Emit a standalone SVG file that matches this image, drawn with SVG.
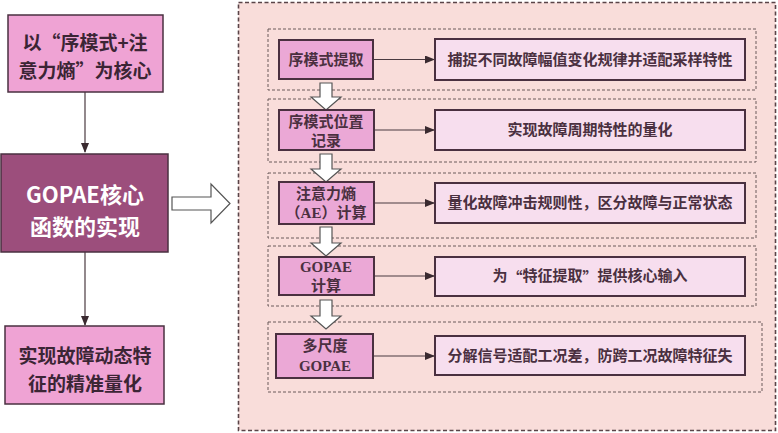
<svg xmlns="http://www.w3.org/2000/svg" width="778" height="433" viewBox="0 0 778 433">
<defs>
<style>
.lbox{fill:#EFA3D4;stroke:#4a3040;stroke-width:1.5}
.dbox{fill:#9C4E7C;stroke:#4a3040;stroke-width:1.5}
.ltxt{font-family:"Noto Sans CJK SC","Liberation Sans",sans-serif;font-weight:700;font-size:19px;fill:#3b2535;text-anchor:middle;dominant-baseline:central}
.wtxt{font-family:"Noto Sans CJK SC","Liberation Sans",sans-serif;font-weight:700;font-size:22px;fill:#ffffff;text-anchor:middle;dominant-baseline:central}
.grp{fill:none;stroke:#6a5a5a;stroke-width:1;stroke-dasharray:3 2}
.node{fill:#EBA8D6;stroke:#4a3040;stroke-width:2}
.rbox{fill:#F7DEEE;stroke:#4a3040;stroke-width:2}
.stxt{font-family:"Liberation Serif","Noto Sans CJK SC",serif;font-weight:700;font-size:15px;fill:#4a3040;text-anchor:middle;dominant-baseline:central}
.cjk{font-family:"Noto Sans CJK SC",sans-serif}
.conn{stroke:#4a3a40;stroke-width:1.2;fill:none}
.hol{fill:#ffffff;stroke:#555555;stroke-width:1.2}
</style>
<marker id="ah" markerWidth="10" markerHeight="8" refX="9" refY="4" orient="auto" markerUnits="userSpaceOnUse">
<path d="M0,0 L10,4 L0,8 z" fill="#3a2a30"/>
</marker>
</defs>
<rect width="778" height="433" fill="#ffffff"/>
<rect id="panel" x="238.5" y="2.5" width="537" height="428" fill="#F9DDDA" stroke="#5a4448" stroke-width="1.6" stroke-dasharray="4 2.5"/>
<rect class="grp" x="268" y="29" width="488" height="61"/>
<rect class="grp" x="268" y="99" width="488" height="63"/>
<rect class="grp" x="268" y="173" width="488" height="65"/>
<rect class="grp" x="268" y="246" width="488" height="60"/>
<rect class="grp" x="268" y="322" width="494" height="70"/>
<g id="connectors">
<line class="conn" x1="85" y1="92" x2="85" y2="152" marker-end="url(#ah)"/>
<line class="conn" x1="85" y1="252" x2="85" y2="325" marker-end="url(#ah)"/>
<polygon class="hol" points="172,197 211,197 211,184 230,203.5 211,223 211,210 172,210"/>
<line class="conn" x1="373" y1="59.5" x2="434" y2="59.5" marker-end="url(#ah)"/>
<line class="conn" x1="374" y1="130" x2="434" y2="130" marker-end="url(#ah)"/>
<line class="conn" x1="374" y1="203" x2="434" y2="203" marker-end="url(#ah)"/>
<line class="conn" x1="374" y1="276" x2="434" y2="276" marker-end="url(#ah)"/>
<line class="conn" x1="373" y1="356" x2="434" y2="356" marker-end="url(#ah)"/>
<polygon class="hol" points="320,83 332,83 332,97 341,97 326,110 311,97 320,97"/>
<polygon class="hol" points="320,154 332,154 332,169 341,169 326,182 311,169 320,169"/>
<polygon class="hol" points="320,227 332,227 332,243 341,243 326,256 311,243 320,243"/>
<polygon class="hol" points="320,300 332,300 332,316 341,316 326,329 311,316 320,316"/>
</g>
<g id="l1"><rect class="lbox" x="8" y="15" width="155" height="77"/>
<text class="ltxt" x="85" y="41">以“序模式+注</text>
<text class="ltxt" x="85" y="69">意力熵”为核心</text></g>
<g id="l2"><rect class="dbox" x="1" y="154" width="167" height="98"/>
<text class="wtxt" x="85" y="193">GOPAE核心</text>
<text class="wtxt" x="85" y="225">函数的实现</text></g>
<g id="l3"><rect class="lbox" x="5" y="326" width="159" height="78"/>
<text class="ltxt" x="85" y="354">实现故障动态特</text>
<text class="ltxt" x="85" y="382">征的精准量化</text></g>
<g id="n1"><rect class="node" x="279" y="40" width="94" height="39"/>
<text class="stxt" x="326" y="59.5">序模式提取</text></g>
<g id="n2"><rect class="node" x="279" y="110" width="95" height="40"/>
<text class="stxt" x="326" y="122">序模式位置</text>
<text class="stxt" x="326" y="141">记录</text></g>
<g id="n3"><rect class="node" x="279" y="182" width="95" height="42"/>
<text class="stxt" x="326" y="194">注意力熵</text>
<text class="stxt" x="326" y="213">（AE）计算</text></g>
<g id="n4"><rect class="node" x="279" y="257" width="95" height="38"/>
<text class="stxt" x="326" y="267">GOPAE</text>
<text class="stxt" x="326" y="286">计算</text></g>
<g id="n5"><rect class="node" x="276" y="334" width="97" height="44"/>
<text class="stxt" x="325" y="346">多尺度</text>
<text class="stxt" x="325" y="366">GOPAE</text></g>
<g id="r1"><rect class="rbox" x="435" y="39" width="310" height="41"/>
<text class="stxt" x="590" y="59.5">捕捉不同故障幅值变化规律并适配采样特性</text></g>
<g id="r2"><rect class="rbox" x="435" y="110" width="310" height="40"/>
<text class="stxt" x="590" y="130">实现故障周期特性的量化</text></g>
<g id="r3"><rect class="rbox" x="435" y="183" width="310" height="40"/>
<text class="stxt" x="590" y="203">量化故障冲击规则性，区分故障与正常状态</text></g>
<g id="r4"><rect class="rbox" x="435" y="257" width="310" height="39"/>
<text class="stxt" x="590" y="276">为<tspan class="cjk">“</tspan>特征提取<tspan class="cjk">”</tspan>提供核心输入</text></g>
<g id="r5"><rect class="rbox" x="435" y="336" width="310" height="39"/>
<text class="stxt" x="590" y="356">分解信号适配工况差，防跨工况故障特征失</text></g>
</svg>
